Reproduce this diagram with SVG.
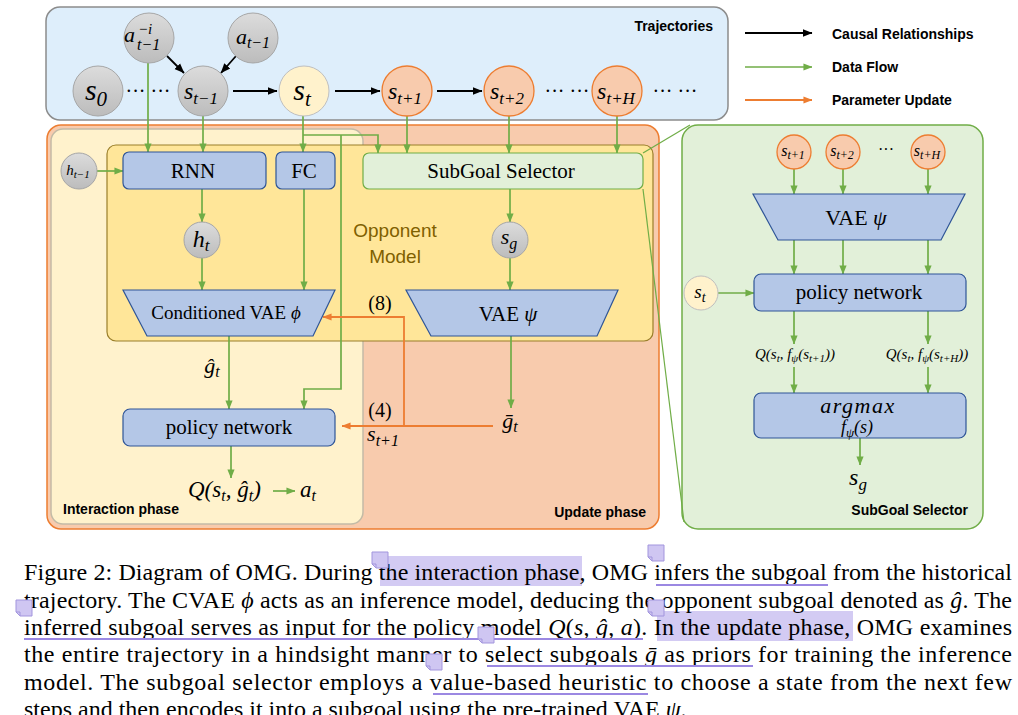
<svg xmlns="http://www.w3.org/2000/svg" width="1018" height="715" viewBox="0 0 1018 715">
<defs>
  <linearGradient id="gGray" x1="0" y1="0" x2="0" y2="1">
    <stop offset="0" stop-color="#dcdcdc"/><stop offset="1" stop-color="#bcbcbc"/>
  </linearGradient>
  <marker id="mK" markerUnits="userSpaceOnUse" markerWidth="10" markerHeight="10" viewBox="0 0 10 10" refX="9.5" refY="5" orient="auto"><path d="M0,1 L10,5 L0,9 z" fill="#000"/></marker>
  <marker id="mG" markerUnits="userSpaceOnUse" markerWidth="9" markerHeight="9" viewBox="0 0 10 10" refX="9.5" refY="5" orient="auto"><path d="M0,1 L10,5 L0,9 z" fill="#70ad47"/></marker>
  <marker id="mO" markerUnits="userSpaceOnUse" markerWidth="9" markerHeight="9" viewBox="0 0 10 10" refX="9.5" refY="5" orient="auto"><path d="M0,1 L10,5 L0,9 z" fill="#ed7d31"/></marker>
</defs>
<style>
  .sans{font-family:"Liberation Sans",Arial,sans-serif}
  .lab{font-family:"Liberation Sans",Arial,sans-serif;font-weight:bold;font-size:14px;fill:#000}
  .serif{font-family:"Liberation Serif","DejaVu Serif",serif;fill:#000}
  .m{font-family:"Liberation Serif","DejaVu Serif",serif;font-style:italic;fill:#000}
  .box{fill:#b4c7e7;stroke:#2f5597;stroke-width:1.2}
  .gbox{fill:#e2f0d9;stroke:#70ad47;stroke-width:1.2}
  .gc{fill:url(#gGray);stroke:#a6a6a6;stroke-width:1}
  .oc{fill:#f8cbad;stroke:#ed7d31;stroke-width:1.3}
  .yc{fill:#fff2cc;stroke:#bfbfbf;stroke-width:1}
  .g{stroke:#70ad47;stroke-width:1.7;fill:none;marker-end:url(#mG)}
  .gt{stroke:#70ad47;stroke-width:1.2;fill:none}
  .o{stroke:#ed7d31;stroke-width:1.8;fill:none;marker-end:url(#mO)}
  .k{stroke:#000;stroke-width:1.8;fill:none;marker-end:url(#mK)}
  .cap{font-family:"Liberation Serif","Times New Roman","DejaVu Serif",serif;font-size:24px;fill:#000}
  .hl{fill:#d3cbf3}
  .ul{stroke:#9b88e2;stroke-width:2;fill:none}
  .note{fill:#cfc6f2;stroke:#a295dd;stroke-width:1}
</style>

<!-- panels -->
<g id="panels">
  <rect id="trajectories" x="46" y="7" width="682" height="113" rx="14" fill="#deeefb" stroke="#8c8c8c" stroke-width="1.5"/>
  <rect id="update-phase" x="47" y="125" width="612" height="404" rx="14" fill="#f8cbad" stroke="#ed7d31" stroke-width="1.5"/>
  <rect id="interaction-phase" x="51" y="129" width="312" height="395" rx="12" fill="#fff2cc" stroke="#c3bba6" stroke-width="1.5"/>
  <rect id="opponent-model" x="107" y="145" width="546" height="196" rx="9" fill="#ffe699" stroke="#9a7f2a" stroke-width="1.2"/>
  <rect id="subgoal-panel" x="682" y="125" width="301" height="404" rx="16" fill="#e2f0d9" stroke="#70ad47" stroke-width="1.5"/>
  <text class="lab" x="713" y="31" text-anchor="end">Trajectories</text>
  <text class="lab" x="63" y="514">Interaction phase</text>
  <text class="lab" x="646" y="517" text-anchor="end">Update phase</text>
  <text class="lab" x="968" y="515" text-anchor="end">SubGoal Selector</text>
  <text class="sans" x="395" y="237" text-anchor="middle" font-size="19" fill="#7f6000">Opponent</text>
  <text class="sans" x="395" y="263" text-anchor="middle" font-size="19" fill="#7f6000">Model</text>
</g>

<!-- legend -->
<g id="legend">
  <line class="k" x1="745" y1="33" x2="812" y2="33" stroke-width="1.5"/>
  <text class="lab" x="832" y="39">Causal Relationships</text>
  <line class="g" x1="745" y1="67" x2="812" y2="67"/>
  <text class="lab" x="832" y="72">Data Flow</text>
  <line class="o" x1="745" y1="100" x2="812" y2="100"/>
  <text class="lab" x="832" y="105">Parameter Update</text>
</g>

<!-- connectors -->
<g id="connectors">
  <line class="k" x1="167" y1="56" x2="184" y2="73"/>
  <line class="k" x1="236" y1="56" x2="221" y2="73"/>
  <line class="k" x1="233" y1="91" x2="277" y2="91"/>
  <line class="k" x1="335" y1="91" x2="380" y2="91"/>
  <line class="k" x1="437" y1="91" x2="482" y2="91"/>
  <line class="g" x1="148" y1="63" x2="148" y2="152"/>
  <line class="g" x1="203" y1="116" x2="203" y2="152"/>
  <line class="g" x1="303" y1="116" x2="303" y2="152"/>
  <path class="g" d="M303,135 H378 V153"/>
  <path class="g" d="M341,135 V389 H304 V409"/>
  <line class="g" x1="407" y1="116" x2="407" y2="153"/>
  <line class="g" x1="509" y1="116" x2="509" y2="153"/>
  <line class="g" x1="617" y1="116" x2="617" y2="153"/>
  <line class="g" x1="97" y1="171" x2="123" y2="171"/>
  <line class="g" x1="202" y1="189" x2="202" y2="222"/>
  <line class="g" x1="202" y1="258" x2="202" y2="290"/>
  <line class="g" x1="304" y1="189" x2="304" y2="290"/>
  <line class="g" x1="510" y1="189" x2="510" y2="222"/>
  <line class="g" x1="510" y1="258" x2="510" y2="290"/>
  <line class="g" x1="229" y1="336" x2="229" y2="409"/>
  <line class="g" x1="511" y1="336" x2="511" y2="408"/>
  <line class="g" x1="231" y1="446" x2="231" y2="478"/>
  <line class="g" x1="273" y1="491" x2="295" y2="491"/>
  <path class="o" d="M493,426 H342"/>
  <path class="o" d="M404,426 V317 H323"/>
  <line class="gt" x1="643" y1="153" x2="690" y2="125"/>
  <line class="gt" x1="643" y1="189" x2="684" y2="522"/>
  <line class="g" x1="794" y1="169" x2="794" y2="194"/>
  <line class="g" x1="843" y1="169" x2="843" y2="194"/>
  <line class="g" x1="928" y1="169" x2="928" y2="194"/>
  <line class="g" x1="794" y1="240" x2="794" y2="274"/>
  <line class="g" x1="843" y1="240" x2="843" y2="274"/>
  <line class="g" x1="928" y1="240" x2="928" y2="274"/>
  <line class="g" x1="718" y1="293" x2="754" y2="293"/>
  <line class="g" x1="794" y1="311" x2="794" y2="344"/>
  <line class="g" x1="928" y1="311" x2="928" y2="344"/>
  <line class="g" x1="794" y1="367" x2="794" y2="393"/>
  <line class="g" x1="928" y1="367" x2="928" y2="393"/>
  <line class="g" x1="860" y1="438" x2="860" y2="465"/>
</g>

<!-- trajectory nodes -->
<g id="n-a-opp">
  <circle class="gc" cx="149" cy="38" r="25"/>
  <text class="m" font-size="22"><tspan x="124" y="42">a</tspan><tspan x="138" y="34" font-size="15">−i</tspan><tspan x="137" y="50" font-size="16">t−1</tspan></text>
</g>
<g id="n-a">
  <circle class="gc" cx="253" cy="38" r="25"/>
  <text class="m" x="253" y="44" text-anchor="middle" font-size="22">a<tspan font-size="16" dy="4">t−1</tspan></text>
</g>
<g id="n-s0">
  <circle class="gc" cx="98" cy="91" r="25"/>
  <text class="m" x="96" y="100" text-anchor="middle" font-size="30">s<tspan font-size="21" dy="6">0</tspan></text>
</g>
<text class="serif" x="148" y="98" text-anchor="middle" font-size="20">··· ···</text>
<g id="n-st-1">
  <circle class="gc" cx="203" cy="91" r="25"/>
  <text class="m" x="201" y="99" text-anchor="middle" font-size="24">s<tspan font-size="17" dy="5">t−1</tspan></text>
</g>
<g id="n-st">
  <circle class="yc" cx="304" cy="91" r="25"/>
  <text class="m" x="302" y="100" text-anchor="middle" font-size="30">s<tspan font-size="21" dy="6">t</tspan></text>
</g>
<g id="n-st1">
  <circle class="oc" cx="407" cy="91" r="25"/>
  <text class="m" x="405" y="99" text-anchor="middle" font-size="24">s<tspan font-size="17" dy="5">t+1</tspan></text>
</g>
<g id="n-st2">
  <circle class="oc" cx="509" cy="91" r="25"/>
  <text class="m" x="507" y="99" text-anchor="middle" font-size="24">s<tspan font-size="17" dy="5">t+2</tspan></text>
</g>
<text class="serif" x="567" y="98" text-anchor="middle" font-size="20">··· ···</text>
<g id="n-stH">
  <circle class="oc" cx="617" cy="91" r="25"/>
  <text class="m" x="616" y="99" text-anchor="middle" font-size="24">s<tspan font-size="17" dy="5">t+H</tspan></text>
</g>
<text class="serif" x="675" y="98" text-anchor="middle" font-size="20">··· ···</text>

<!-- opponent model nodes -->
<g id="n-ht-1">
  <circle class="gc" cx="79" cy="171" r="18"/>
  <text class="m" x="78" y="175" text-anchor="middle" font-size="15">h<tspan font-size="11" dy="3">t−1</tspan></text>
</g>
<g id="n-rnn">
  <rect class="box" x="123" y="152" width="143" height="37" rx="6"/>
  <text class="serif" x="193" y="178" text-anchor="middle" font-size="21">RNN</text>
</g>
<g id="n-fc">
  <rect class="box" x="276" y="152" width="59" height="37" rx="6"/>
  <text class="serif" x="304" y="178" text-anchor="middle" font-size="21">FC</text>
</g>
<g id="n-sgs">
  <rect class="gbox" x="363" y="153" width="280" height="36" rx="6"/>
  <text class="serif" x="501" y="178" text-anchor="middle" font-size="21">SubGoal Selector</text>
</g>
<g id="n-ht">
  <circle class="gc" cx="202" cy="240" r="18"/>
  <text class="m" x="201" y="247" text-anchor="middle" font-size="24">h<tspan font-size="17" dy="4">t</tspan></text>
</g>
<g id="n-sg">
  <circle class="gc" cx="510" cy="240" r="18"/>
  <text class="m" x="509" y="244" text-anchor="middle" font-size="22">s<tspan font-size="16" dy="5">g</tspan></text>
</g>
<g id="n-cvae">
  <polygon class="box" points="123,290 335,290 313,336 147,336"/>
  <text class="serif" x="226" y="319" text-anchor="middle" font-size="19">Conditioned VAE <tspan class="m">ϕ</tspan></text>
</g>
<g id="n-vae">
  <polygon class="box" points="406,290 618,290 597,336 431,336"/>
  <text class="serif" x="508" y="321" text-anchor="middle" font-size="21">VAE  <tspan class="m">ψ</tspan></text>
</g>
<text class="serif" x="380" y="310" text-anchor="middle" font-size="20">(8)</text>
<text class="m" x="212" y="373" text-anchor="middle" font-size="22">ĝ<tspan font-size="16" dy="4">t</tspan></text>
<text class="m" x="510" y="428" text-anchor="middle" font-size="22">ḡ<tspan font-size="16" dy="4">t</tspan></text>
<text class="serif" x="380" y="417" text-anchor="middle" font-size="20">(4)</text>
<text class="m" x="383" y="441" text-anchor="middle" font-size="22">s<tspan font-size="16" dy="5">t+1</tspan></text>
<g id="n-policy">
  <rect class="box" x="123" y="409" width="212" height="37" rx="7"/>
  <text class="serif" x="229" y="434" text-anchor="middle" font-size="21">policy network</text>
</g>
<text class="m" x="188" y="497" font-size="23">Q(s<tspan font-size="16" dy="4">t</tspan><tspan dy="-4">, ĝ</tspan><tspan font-size="16" dy="4">t</tspan><tspan dy="-4">)</tspan></text>
<text class="m" x="300" y="497" font-size="23">a<tspan font-size="16" dy="4">t</tspan></text>

<!-- subgoal selector detail nodes -->
<g id="r-st1">
  <circle class="oc" cx="794" cy="152" r="17"/>
  <text class="m" x="793" y="156" text-anchor="middle" font-size="16">s<tspan font-size="12" dy="3">t+1</tspan></text>
</g>
<g id="r-st2">
  <circle class="oc" cx="843" cy="152" r="17"/>
  <text class="m" x="842" y="156" text-anchor="middle" font-size="16">s<tspan font-size="12" dy="3">t+2</tspan></text>
</g>
<text class="serif" x="886" y="155" text-anchor="middle" font-size="16">···</text>
<g id="r-stH">
  <circle class="oc" cx="928" cy="152" r="17"/>
  <text class="m" x="927" y="156" text-anchor="middle" font-size="16">s<tspan font-size="12" dy="3">t+H</tspan></text>
</g>
<g id="r-vae">
  <polygon class="box" points="753,194 965,194 941,240 778,240"/>
  <text class="serif" x="856" y="225" text-anchor="middle" font-size="22">VAE  <tspan class="m">ψ</tspan></text>
</g>
<g id="r-st">
  <circle class="yc" cx="701" cy="293" r="17"/>
  <text class="m" x="700" y="298" text-anchor="middle" font-size="19">s<tspan font-size="14" dy="4">t</tspan></text>
</g>
<g id="r-policy">
  <rect class="box" x="754" y="274" width="212" height="37" rx="7"/>
  <text class="serif" x="859" y="299" text-anchor="middle" font-size="21">policy network</text>
</g>
<text class="m" x="795" y="359" text-anchor="middle" font-size="15">Q(s<tspan font-size="11" dy="3">t</tspan><tspan dy="-3">, f</tspan><tspan font-size="11" dy="3">ψ</tspan><tspan dy="-3">(s</tspan><tspan font-size="11" dy="3">t+1</tspan><tspan dy="-3">))</tspan></text>
<text class="m" x="927" y="359" text-anchor="middle" font-size="15">Q(s<tspan font-size="11" dy="3">t</tspan><tspan dy="-3">, f</tspan><tspan font-size="11" dy="3">ψ</tspan><tspan dy="-3">(s</tspan><tspan font-size="11" dy="3">t+H</tspan><tspan dy="-3">))</tspan></text>
<g id="r-argmax">
  <rect class="box" x="754" y="393" width="212" height="45" rx="7"/>
  <text class="m" x="858" y="413" text-anchor="middle" font-size="22" letter-spacing="1.5">argmax</text>
  <text class="m" x="857" y="433" text-anchor="middle" font-size="18">f<tspan font-size="13" dy="4">ψ</tspan><tspan dy="-4">(s)</tspan></text>
</g>
<text class="m" x="858" y="485" text-anchor="middle" font-size="24">s<tspan font-size="17" dy="5">g</tspan></text>

<!-- caption -->
<g id="caption">
  <rect class="hl" x="380" y="556" width="202" height="30"/>
  <rect class="hl" x="657" y="611" width="196" height="30"/>
  <text class="cap" x="24" y="580" textLength="988" lengthAdjust="spacing">Figure 2: Diagram of OMG. During the interaction phase, OMG infers the subgoal from the historical</text>
  <text class="cap" x="24" y="607.5" textLength="988" lengthAdjust="spacing">trajectory. The CVAE <tspan font-style="italic">ϕ</tspan> acts as an inference model, deducing the opponent subgoal denoted as <tspan font-style="italic">ĝ</tspan>. The</text>
  <text class="cap" x="24" y="635" textLength="988" lengthAdjust="spacing">inferred subgoal serves as input for the policy model <tspan font-style="italic">Q</tspan>(<tspan font-style="italic">s</tspan>, <tspan font-style="italic">ĝ</tspan>, <tspan font-style="italic">a</tspan>). In the update phase, OMG examines</text>
  <text class="cap" x="24" y="662" textLength="988" lengthAdjust="spacing">the entire trajectory in a hindsight manner to select subgoals <tspan font-style="italic">ḡ</tspan> as priors for training the inference</text>
  <text class="cap" x="24" y="689.5" textLength="988" lengthAdjust="spacing">model. The subgoal selector employs a value-based heuristic to choose a state from the next few</text>
  <text class="cap" x="24" y="717">steps and then encodes it into a subgoal using the pre-trained VAE <tspan font-style="italic">ψ</tspan>.</text>
  <line class="ul" x1="656" y1="585" x2="828" y2="585"/>
  <line class="ul" x1="24" y1="639" x2="643" y2="639"/>
  <line class="ul" x1="487" y1="666" x2="753" y2="666"/>
  <line class="ul" x1="433" y1="694" x2="648" y2="694"/>
  <path class="note" d="M372,552 H388 V568 H376 L372,564 Z M372,564 H376 V568"/>
  <path class="note" d="M648,545 H664 V561 H652 L648,557 Z M648,557 H652 V561"/>
  <path class="note" d="M16,600 H32 V616 H20 L16,612 Z M16,612 H20 V616"/>
  <path class="note" d="M478,627 H494 V643 H482 L478,639 Z M478,639 H482 V643"/>
  <path class="note" d="M426,654 H442 V670 H430 L426,666 Z M426,666 H430 V670"/>
  <path class="note" d="M648,600 H664 V616 H652 L648,612 Z M648,612 H652 V616"/>
</g>
</svg>
